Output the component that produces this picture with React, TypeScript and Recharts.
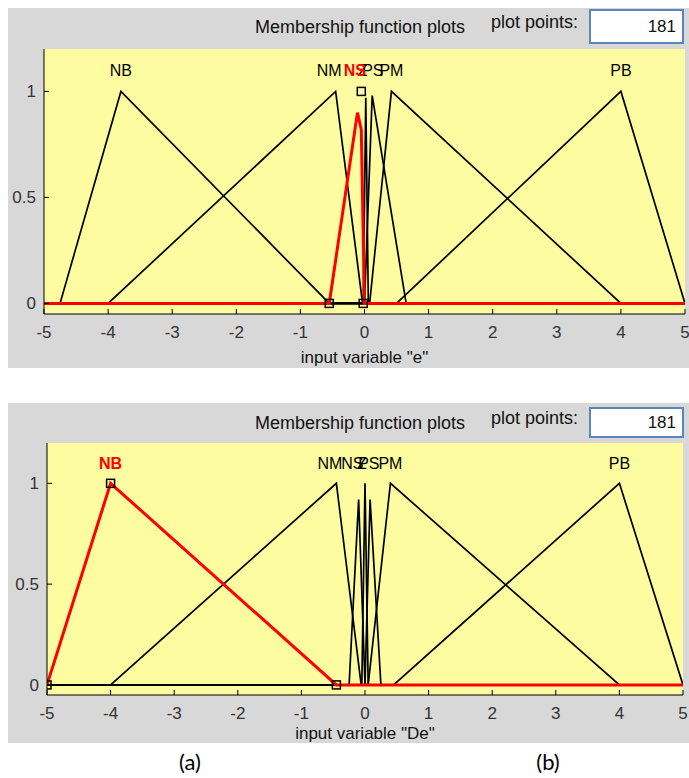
import { ComposedChart, Line, Scatter, XAxis, YAxis, CartesianGrid } from 'recharts';

// ---- shared axis ticks ----
const xTicks = [-5, -4, -3, -2, -1, 0, 1, 2, 3, 4, 5];
const yTicks = [0, 0.5, 1];

// ---- input variable "e" (NS selected) ----
const eNB = [{ x: -5, y: 0 }, { x: -4.75, y: 0 }, { x: -3.8, y: 1 }, { x: -0.55, y: 0 }, { x: 5, y: 0 }];
const eNM = [{ x: -5, y: 0 }, { x: -4, y: 0 }, { x: -0.45, y: 1 }, { x: -0.03, y: 0 }, { x: 5, y: 0 }];
const eZ = [{ x: -5, y: 0 }, { x: -0.02, y: 0 }, { x: 0.02, y: 0.97 }, { x: 0.06, y: 0 }, { x: 5, y: 0 }];
const ePS = [{ x: -5, y: 0 }, { x: 0, y: 0 }, { x: 0.12, y: 0.98 }, { x: 0.65, y: 0 }, { x: 5, y: 0 }];
const ePM = [{ x: -5, y: 0 }, { x: 0.08, y: 0 }, { x: 0.42, y: 1 }, { x: 4, y: 0 }, { x: 5, y: 0 }];
const ePB = [{ x: -5, y: 0 }, { x: 0.5, y: 0 }, { x: 4, y: 1 }, { x: 5, y: 0 }];
const eNS = [{ x: -5, y: 0 }, { x: -0.55, y: 0 }, { x: -0.11, y: 0.9 }, { x: -0.05, y: 0.82 }, { x: 0, y: 0 }, { x: 5, y: 0 }];
const eMarkers = [{ x: -0.55, y: 0 }, { x: -0.05, y: 1 }, { x: -0.02, y: 0 }];
const eLabels = [
  { x: -3.8, y: 1.1, name: 'NB' },
  { x: -0.55, y: 1.1, name: 'NM' },
  { x: -0.03, y: 1.1, name: 'Z' },
  { x: 0.13, y: 1.1, name: 'PS' },
  { x: 0.42, y: 1.1, name: 'PM' },
  { x: 4, y: 1.1, name: 'PB' },
];
const eSelLabel = [{ x: -0.15, y: 1.1, name: 'NS' }];

// ---- input variable "De" (NB selected) ----
const dNM = [{ x: -5, y: 0 }, { x: -4, y: 0 }, { x: -0.45, y: 1 }, { x: -0.06, y: 0 }, { x: 5, y: 0 }];
const dNS = [{ x: -5, y: 0 }, { x: -0.25, y: 0 }, { x: -0.1, y: 0.92 }, { x: 0, y: 0 }, { x: 5, y: 0 }];
const dZ = [{ x: -5, y: 0 }, { x: -0.05, y: 0 }, { x: 0, y: 1 }, { x: 0.05, y: 0 }, { x: 5, y: 0 }];
const dPS = [{ x: -5, y: 0 }, { x: 0, y: 0 }, { x: 0.08, y: 0.92 }, { x: 0.25, y: 0 }, { x: 5, y: 0 }];
const dPM = [{ x: -5, y: 0 }, { x: 0.05, y: 0 }, { x: 0.4, y: 1 }, { x: 4, y: 0 }, { x: 5, y: 0 }];
const dPB = [{ x: -5, y: 0 }, { x: 0.45, y: 0 }, { x: 4, y: 1 }, { x: 5, y: 0 }];
const dNB = [{ x: -5, y: 0 }, { x: -4, y: 1 }, { x: -0.45, y: 0 }, { x: 5, y: 0 }];
const dMarkers = [{ x: -5, y: 0 }, { x: -4, y: 1 }, { x: -0.45, y: 0 }];
const dLabels = [
  { x: -0.55, y: 1.1, name: 'NM' },
  { x: -0.2, y: 1.1, name: 'NS' },
  { x: -0.05, y: 1.1, name: 'Z' },
  { x: 0.06, y: 1.1, name: 'PS' },
  { x: 0.4, y: 1.1, name: 'PM' },
  { x: 4, y: 1.1, name: 'PB' },
];
const dSelLabel = [{ x: -4, y: 1.1, name: 'NB' }];

const FONT = '"Liberation Sans", Arial, sans-serif';
const PANEL_W = 681;

const BottomTick = (p: any) => (
  <g>
    <line x1={p.x} y1={p.y} x2={p.x} y2={p.y - 5} stroke="#000" />
    <text x={p.x} y={p.y + 24} textAnchor="middle" fontSize={17} fill="#333" fontFamily={FONT}>
      {p.payload.value}
    </text>
  </g>
);
const TopTick = (p: any) => <line x1={p.x} y1={p.y} x2={p.x} y2={p.y + 5} stroke="#000" />;
const LeftTick = (p: any) => (
  <g>
    <line x1={p.x} y1={p.y} x2={p.x + 5} y2={p.y} stroke="#000" />
    <text x={p.x - 8} y={p.y + 6} textAnchor="end" fontSize={17} fill="#333" fontFamily={FONT}>
      {p.payload.value}
    </text>
  </g>
);
const RightTick = (p: any) => <line x1={p.x} y1={p.y} x2={p.x - 5} y2={p.y} stroke="#000" />;

const squareShape = (p: any) => (
  <rect x={p.cx - 4} y={p.cy - 4} width={8} height={8} fill="none" stroke="#000" strokeWidth={1.5} />
);
const labelShape = (color: string, bold: boolean) => (p: any) => (
  <text x={p.cx} y={p.cy} dy="0.36em" textAnchor="middle" fontSize={16} fill={color}
    fontWeight={bold ? 'bold' : 'normal'} fontFamily={FONT}>
    {p.payload.name}
  </text>
);

function Panel(props: any) {
  const { top, height, plot, header, mfs, selected, markers, labels, selLabel, xlabel, labelOffset } = props;
  return (
    <div style={{ position: 'absolute', left: 8, top, width: PANEL_W, height, background: '#d8d8d8', fontFamily: FONT }}>
      <div style={{ position: 'absolute', left: 0, width: 704, top: header.titleY - 10, textAlign: 'center', fontSize: 18, lineHeight: '20px', color: '#111' }}>
        Membership function plots
      </div>
      <div style={{ position: 'absolute', right: 111, top: header.ppY - 10, fontSize: 18, lineHeight: '20px', color: '#111' }}>
        plot points:
      </div>
      <div style={{ position: 'absolute', left: 581, top: header.boxTop, width: 91, height: header.boxH - 4, border: '2px solid #5a86bd', background: '#fff', fontSize: 17, display: 'flex', alignItems: 'center', justifyContent: 'flex-end' }}>
        <span style={{ marginRight: 6, color: '#111' }}>181</span>
      </div>
      <div style={{ position: 'absolute', left: 0, top: 0 }}>
        <ComposedChart width={PANEL_W} height={height}
          margin={{ top: plot.top, right: PANEL_W - plot.right, left: 0, bottom: 0 }}>
          <CartesianGrid horizontal={false} vertical={false} fill="#fdfca0" />
          <XAxis dataKey="x" type="number" domain={[-5, 5]} ticks={xTicks} allowDataOverflow
            height={height - plot.bottom} tickSize={0} tickMargin={0} tickLine={false}
            axisLine={{ stroke: '#000' }} tick={BottomTick} interval={0}
            label={{ value: xlabel, position: 'insideBottom', offset: labelOffset, fill: '#111', fontSize: 17, fontFamily: FONT }} />
          <XAxis xAxisId="top" orientation="top" dataKey="x" type="number" domain={[-5, 5]} ticks={xTicks}
            allowDataOverflow height={0} tickSize={0} tickMargin={0} tickLine={false}
            axisLine={{ stroke: '#000' }} tick={TopTick} interval={0} />
          <YAxis dataKey="y" type="number" domain={[-0.05, 1.2]} ticks={yTicks} allowDataOverflow
            width={plot.left} tickSize={0} tickMargin={0} tickLine={false}
            axisLine={{ stroke: '#000' }} tick={LeftTick} interval={0} />
          <YAxis yAxisId="right" orientation="right" type="number" domain={[-0.05, 1.2]} ticks={yTicks}
            allowDataOverflow width={0} tickSize={0} tickMargin={0} tickLine={false}
            axisLine={{ stroke: '#000' }} tick={RightTick} interval={0} />
          {mfs.map((d: any, i: number) => (
            <Line key={i} data={d} dataKey="y" type="linear" stroke="#000" strokeWidth={1.7}
              dot={false} activeDot={false} isAnimationActive={false} />
          ))}
          <Line data={selected} dataKey="y" type="linear" stroke="#ff0000" strokeWidth={3}
            dot={false} activeDot={false} isAnimationActive={false} />
          <Scatter data={markers} dataKey="y" shape={squareShape} isAnimationActive={false} />
          <Scatter data={labels} dataKey="y" shape={labelShape('#000', false)} isAnimationActive={false} />
          <Scatter data={selLabel} dataKey="y" shape={labelShape('#ff0000', true)} isAnimationActive={false} />
        </ComposedChart>
      </div>
    </div>
  );
}

export default function App() {
  return (
    <div style={{ position: 'relative', width: 689, height: 778, background: '#fff', overflow: 'hidden' }}>
      <style>{'body{margin:0;overflow:hidden;}'}</style>
      <Panel top={8} height={360}
        plot={{ left: 36, right: 677, top: 41, bottom: 306 }}
        header={{ titleY: 19, ppY: 14, boxTop: 1, boxH: 35 }}
        mfs={[eNB, eNM, eZ, ePS, ePM, ePB]} selected={eNS} markers={eMarkers}
        labels={eLabels} selLabel={eSelLabel} xlabel='input variable "e"' labelOffset={5} />
      <Panel top={403} height={340}
        plot={{ left: 39, right: 675, top: 40, bottom: 292 }}
        header={{ titleY: 20, ppY: 15, boxTop: 4, boxH: 31 }}
        mfs={[dNM, dNS, dZ, dPS, dPM, dPB]} selected={dNB} markers={dMarkers}
        labels={dLabels} selLabel={dSelLabel} xlabel='input variable "De"' labelOffset={4} />
      <div style={{ position: 'absolute', left: 170, top: 748, width: 40, textAlign: 'center', fontFamily: 'Lato, "Open Sans", sans-serif', fontSize: 22, lineHeight: '28px' }}>(a)</div>
      <div style={{ position: 'absolute', left: 528, top: 748, width: 40, textAlign: 'center', fontFamily: 'Lato, "Open Sans", sans-serif', fontSize: 22, lineHeight: '28px' }}>(b)</div>
    </div>
  );
}
